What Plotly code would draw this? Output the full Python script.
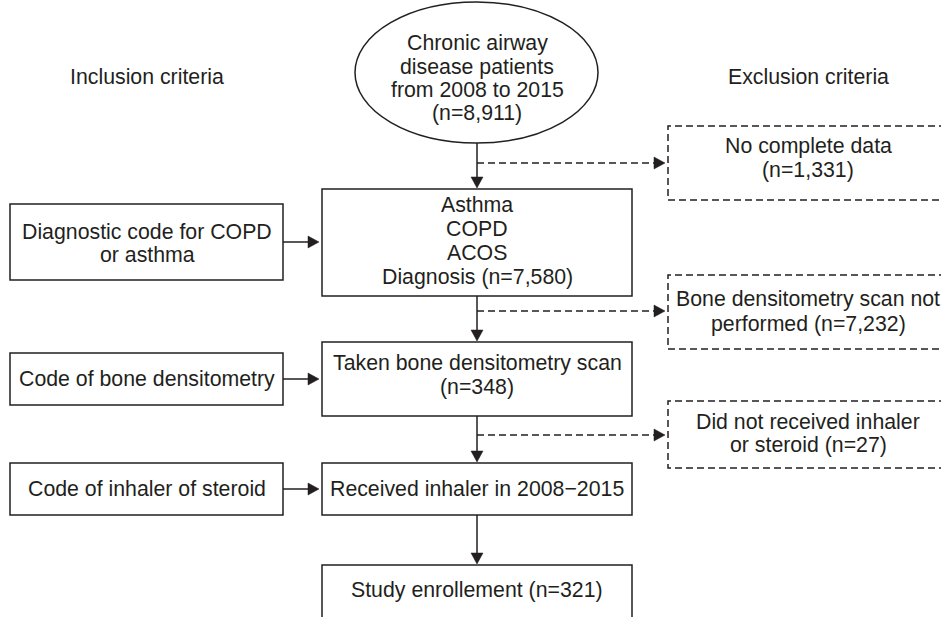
import plotly.graph_objects as go

# ---- content (data) ----
column_titles = ["Inclusion criteria", "Exclusion criteria"]
source_lines = ["Chronic airway", "disease patients", "from 2008 to 2015", "(n=8,911)"]
main_steps = [
    ["Asthma", "COPD", "ACOS", "Diagnosis (n=7,580)"],
    ["Taken bone densitometry scan", "(n=348)"],
    ["Received inhaler in 2008\u22122015"],
    ["Study enrollement (n=321)"],
]
inclusion_steps = [
    ["Diagnostic code for COPD", "or asthma"],
    ["Code of bone densitometry"],
    ["Code of inhaler of steroid"],
]
exclusion_steps = [
    ["No complete data", "(n=1,331)"],
    ["Bone densitometry scan not", "performed (n=7,232)"],
    ["Did not received inhaler", "or steroid (n=27)"],
]

# ---- layout geometry (pixel coordinates) ----
W, H = 941, 617
INK = "#231f20"
FONT = dict(family="Liberation Sans, Arial, sans-serif", size=21.3, color=INK)
LW = 1.5

title_pos = [(147, 77), (808, 77)]
ellipse_box = dict(x0=355, x1=598, y0=2, y1=143)
source_y = [43, 67, 90, 113]

main_x = (322, 632)
main_cx = 477
main_boxes = [(189, 296), (342, 416), (463, 515), (565, None)]
main_text_y = [[205, 229, 253, 277], [363, 387], [489], [590]]

inc_x = (10, 283)
inc_cx = 147
inc_boxes = [(204, 280), (353, 405), (463, 515)]
inc_text_y = [[232, 255], [379], [489]]
inc_arrow_y = [242, 379, 489]

exc_x0 = 668
exc_cx = 808
exc_boxes = [(126, 200), (275, 349), (401, 468)]
exc_text_y = [[146, 170], [299, 324], [422, 445]]
exc_arrow_y = [163, 311, 435]

AH_L, AH_W = 11, 12  # arrow head length / width
DASH = "7px,4px"

shapes = []
annotations = []


def add_text(x, y, txt):
    annotations.append(dict(x=x, y=y, xref="x", yref="y", text=txt, showarrow=False,
                            xanchor="center", yanchor="middle", font=FONT))


def line(x0, y0, x1, y1, dash="solid"):
    shapes.append(dict(type="line", xref="x", yref="y", x0=x0, y0=y0, x1=x1, y1=y1,
                       line=dict(color=INK, width=LW, dash=dash)))


def head(tx, ty, direction):
    if direction == "down":
        p = f"M {tx} {ty} L {tx - AH_W/2} {ty - AH_L} L {tx + AH_W/2} {ty - AH_L} Z"
    else:  # right
        p = f"M {tx} {ty} L {tx - AH_L} {ty - AH_W/2} L {tx - AH_L} {ty + AH_W/2} Z"
    shapes.append(dict(type="path", xref="x", yref="y", path=p, fillcolor=INK,
                       line=dict(color=INK, width=0.5)))


def rect(x0, y0, x1, y1, dash="solid"):
    shapes.append(dict(type="rect", xref="x", yref="y", x0=x0, y0=y0, x1=x1, y1=y1,
                       line=dict(color=INK, width=LW, dash=dash)))


def path(p, dash="solid"):
    shapes.append(dict(type="path", xref="x", yref="y", path=p,
                       line=dict(color=INK, width=LW, dash=dash)))


# column titles
for t, (x, y) in zip(column_titles, title_pos):
    add_text(x, y, t)

# source ellipse
shapes.append(dict(type="circle", xref="x", yref="y", **ellipse_box,
                   line=dict(color=INK, width=LW)))
for t, y in zip(source_lines, source_y):
    add_text(main_cx, y, t)

# main boxes
for lines, (y0, y1), ys in zip(main_steps, main_boxes, main_text_y):
    if y1 is None:
        path(f"M {main_x[0]} {H + 5} L {main_x[0]} {y0} L {main_x[1]} {y0} L {main_x[1]} {H + 5}")
    else:
        rect(main_x[0], y0, main_x[1], y1)
    for t, y in zip(lines, ys):
        add_text(main_cx, y, t)

# vertical arrows between main steps
tops = [ellipse_box["y1"]] + [b[1] for b in main_boxes[:-1]]
for y_start, (y_end, _) in zip(tops, main_boxes):
    line(main_cx, y_start, main_cx, y_end - AH_L)
    head(main_cx, y_end - 1, "down")

# inclusion boxes and arrows
for lines, (y0, y1), ys, ay in zip(inclusion_steps, inc_boxes, inc_text_y, inc_arrow_y):
    rect(inc_x[0], y0, inc_x[1], y1)
    for t, y in zip(lines, ys):
        add_text(inc_cx, y, t)
    line(inc_x[1], ay, main_x[0] - AH_L, ay)
    head(main_x[0] - 3, ay, "right")

# exclusion boxes (open on the right) and dashed arrows
for lines, (y0, y1), ys, ay in zip(exclusion_steps, exc_boxes, exc_text_y, exc_arrow_y):
    path(f"M {W + 5} {y0} L {exc_x0} {y0} L {exc_x0} {y1} L {W + 5} {y1}", dash=DASH)
    for t, y in zip(lines, ys):
        add_text(exc_cx, y, t)
    line(main_cx, ay, exc_x0 - 3 - AH_L, ay, dash=DASH)
    head(exc_x0 - 3, ay, "right")

fig = go.Figure()
fig.update_layout(
    width=W, height=H, margin=dict(l=0, r=0, t=0, b=0),
    paper_bgcolor="white", plot_bgcolor="white",
    xaxis=dict(range=[0, W], visible=False, fixedrange=True),
    yaxis=dict(range=[H, 0], visible=False, fixedrange=True),
    shapes=shapes, annotations=annotations, showlegend=False,
)
fig.write_html("out.html", config={"displayModeBar": False},
               post_script="document.body.style.margin='0';document.body.style.overflow='hidden';")
